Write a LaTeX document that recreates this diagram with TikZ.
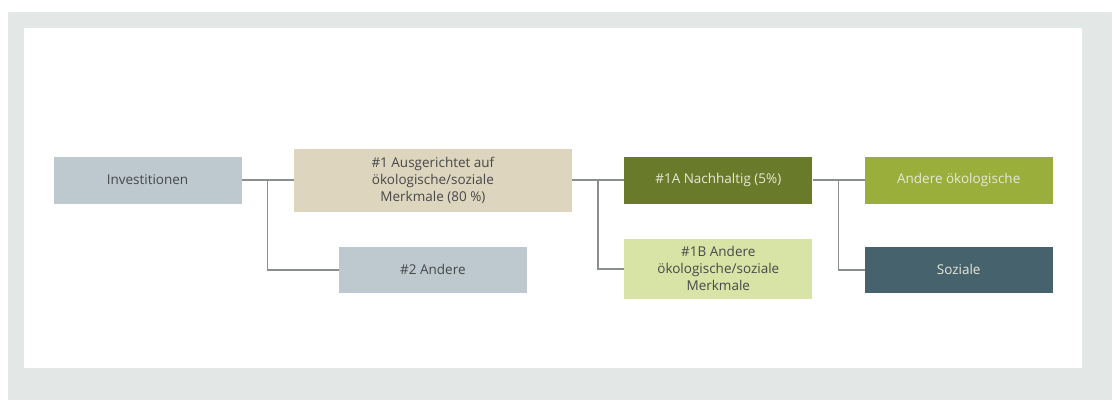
\documentclass[tikz,border=0pt]{standalone}
\usepackage{fontspec}
\setmainfont{Open Sans}
\usetikzlibrary{positioning,calc}

\definecolor{frame}{HTML}{E3E8E7}
\definecolor{greyblue}{HTML}{BDC9CE}
\definecolor{sand}{HTML}{DDD5BE}
\definecolor{olive}{HTML}{6A7A2B}
\definecolor{palegreen}{HTML}{D8E3A6}
\definecolor{leaf}{HTML}{99AE3B}
\definecolor{teal}{HTML}{46626D}
\definecolor{linegrey}{HTML}{8A8E8E}
\definecolor{darktext}{HTML}{464949}
\definecolor{lighttext}{HTML}{E8E8D6}

\begin{document}
\begin{tikzpicture}[
  x=1pt, y=-1pt,
  font=\fontsize{13.5}{17}\selectfont,
  box/.style={align=center, inner sep=2pt, minimum width=188pt, minimum height=47pt, text=darktext},
  light/.style={box, fill=greyblue},
  dark/.style={box, text=lighttext},
  conn/.style={draw=linegrey, line width=1.4pt}
]
\useasboundingbox (0,0) rectangle (1115,400);
\fill[frame] (8,12) rectangle (1112,400);
\fill[white] (24,28) rectangle (1082,368);

\node[light] (inv) at (147.5,180) {Investitionen};
\node[box, fill=sand, minimum width=278pt, minimum height=63pt, right=52pt of inv] (one) {\#1 Ausgerichtet auf\\ökologische/soziale\\Merkmale (80~\%)};
\node[light, minimum height=46pt, below=35pt of one] (two) {\#2 Andere};

\node[dark, fill=olive, right=52pt of one] (onea) {\#1A Nachhaltig (5\%)};
\node[box, fill=palegreen, minimum height=60pt, below=35pt of onea] (oneb) {\#1B Andere\\ökologische/soziale\\Merkmale};

\node[dark, fill=leaf, right=52pt of onea] (eco) {Andere ökologische};
\node[dark, fill=teal, minimum height=46pt, below=43pt of eco] (soc) {Soziale};

\draw[conn] (inv) -- (one);
\draw[conn] ($(inv.east)!.5!(one.west)$) |- (two);
\draw[conn] (one) -- (onea);
\draw[conn] ($(one.east)!.5!(onea.west)$) |- (oneb);
\draw[conn] (onea) -- (eco);
\draw[conn] ($(onea.east)!.5!(eco.west)$) |- (soc);
\end{tikzpicture}
\end{document}
